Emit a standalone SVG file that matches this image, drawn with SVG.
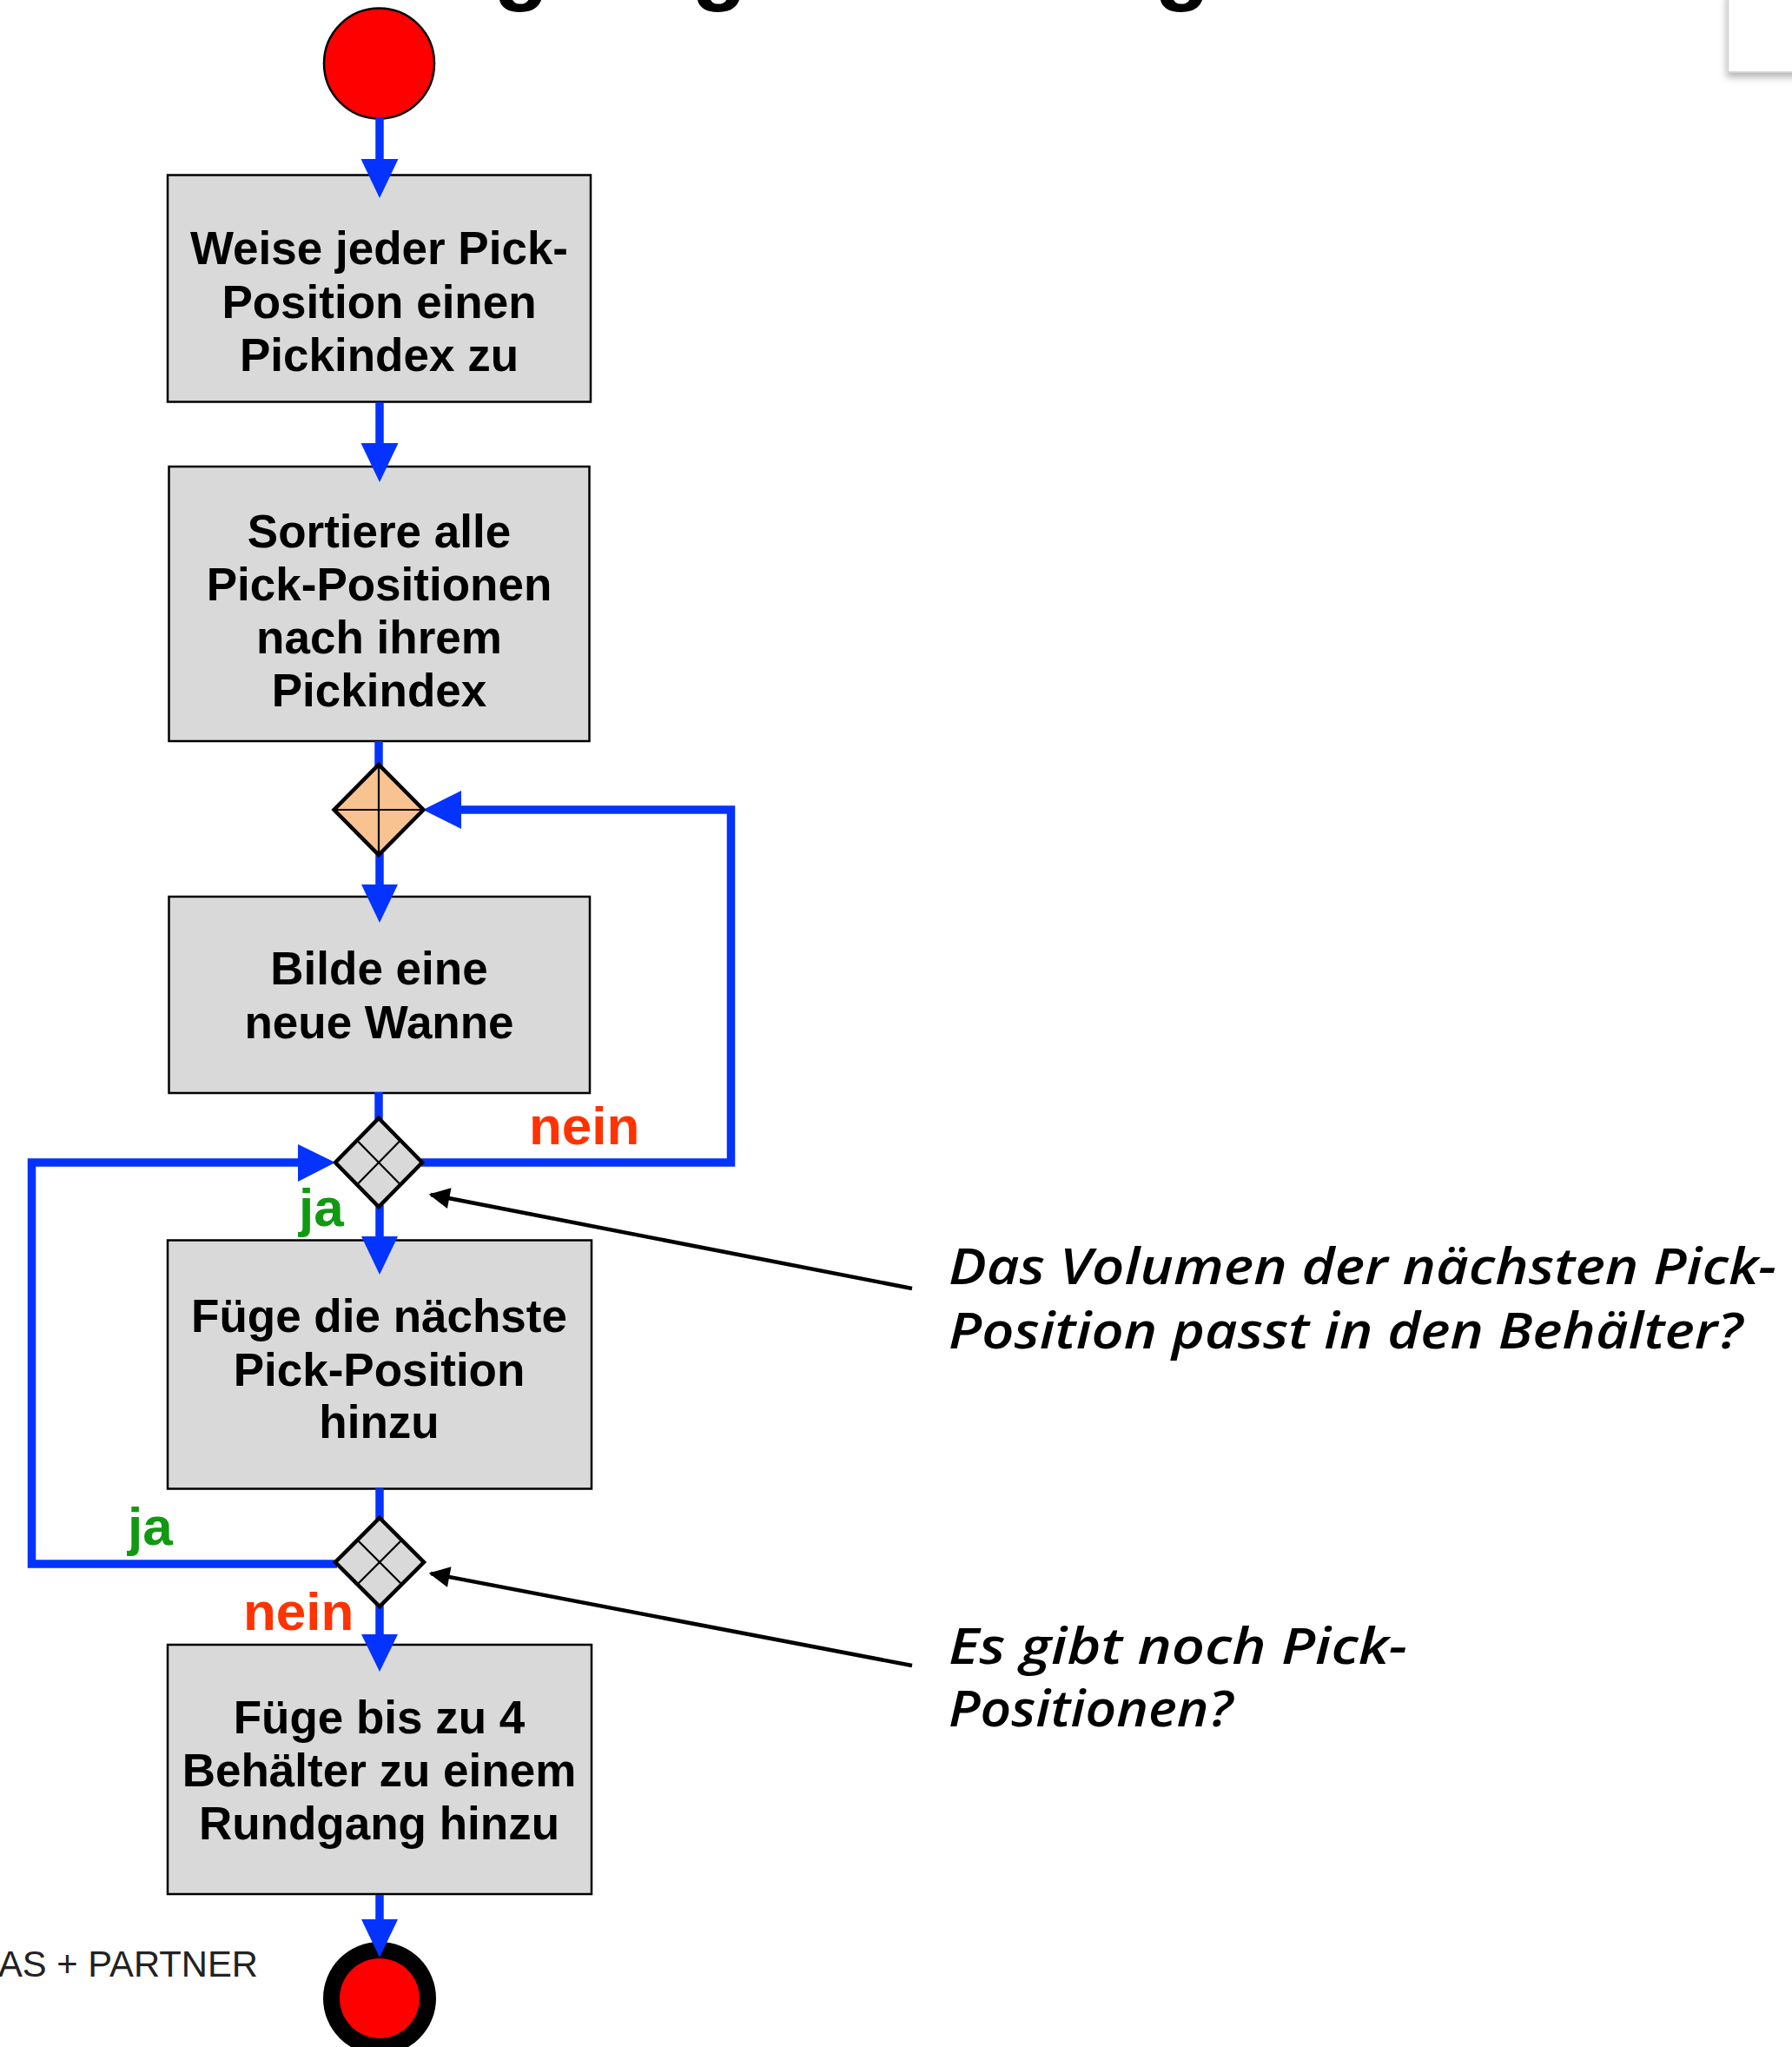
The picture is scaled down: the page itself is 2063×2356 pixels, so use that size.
<svg xmlns="http://www.w3.org/2000/svg" width="2063" height="2356" viewBox="0 0 2063 2356">
  <defs>
    <style>
      .box { fill: #d9d9d9; stroke: #000; stroke-width: 2.5; }
      .btxt { font-family: "Liberation Sans", Arial, sans-serif; font-weight: bold; font-size: 53px; fill: #000; text-anchor: middle; }
      .flow { fill: none; stroke: #0433ff; stroke-width: 9.5; stroke-linecap: butt; stroke-linejoin: miter; }
      .head { fill: #0433ff; }
      .dia { stroke: #000; stroke-width: 4.5; stroke-linejoin: miter; }
      .inner { stroke: #000; stroke-width: 2.2; fill: none; }
      .note { font-family: "Open Sans", "DejaVu Sans", sans-serif; font-style: italic; font-weight: 600; font-size: 57px; fill: #000; }
      .lbl { font-family: "Liberation Sans", Arial, sans-serif; font-weight: bold; font-size: 62px; }
      .yes { fill: #119911; }
      .no { fill: #ff3300; }
      .pointer { stroke: #000; stroke-width: 4.5; fill: none; }
    </style>
    <marker id="tip" viewBox="0 0 10 10" refX="9" refY="5" markerWidth="27" markerHeight="24" markerUnits="userSpaceOnUse" orient="auto">
      <path d="M0,0 L10,5 L0,10 z" fill="#000"/>
    </marker>
    <filter id="shadow" x="-20%" y="-20%" width="140%" height="160%">
      <feDropShadow dx="-1" dy="5" stdDeviation="4" flood-color="#000" flood-opacity="0.3"/>
    </filter>
  </defs>

  <rect width="2063" height="2356" fill="#fff"/>

  <!-- heading, only its descenders reach into the page -->
  <g id="heading" font-family="Liberation Sans, Arial, sans-serif" font-weight="bold" font-size="104" text-anchor="middle" fill="#000">
    <text x="600" y="-8">g</text>
    <text x="828" y="-8">g</text>
    <text x="1361" y="-8">g</text>
  </g>

  <!-- panel in the upper right corner -->
  <g id="corner-panel">
    <rect x="1989.5" y="-10" width="90" height="93" fill="#fff" stroke="#cfcfcf" stroke-width="1.5" filter="url(#shadow)"/>
  </g>

  <!-- start node -->
  <g id="start">
    <circle cx="436.5" cy="73" r="63.5" fill="#ff0000" stroke="#000" stroke-width="2.5"/>
  </g>

  <g id="assign-index">
    <rect class="box" x="193" y="201.5" width="487" height="261"/>
    <text class="btxt" x="436.5" y="304">Weise jeder Pick-</text>
    <text class="btxt" x="436.5" y="366">Position einen</text>
    <text class="btxt" x="436.5" y="427">Pickindex zu</text>
  </g>

  <g id="sort">
    <rect class="box" x="194.5" y="537" width="484" height="316"/>
    <text class="btxt" x="436.5" y="630">Sortiere alle</text>
    <text class="btxt" x="436.5" y="691">Pick-Positionen</text>
    <text class="btxt" x="436.5" y="752">nach ihrem</text>
    <text class="btxt" x="436.5" y="813">Pickindex</text>
  </g>

  <g id="new-tub">
    <rect class="box" x="194.5" y="1032" width="484.5" height="226"/>
    <text class="btxt" x="436.5" y="1133">Bilde eine</text>
    <text class="btxt" x="436.5" y="1195">neue Wanne</text>
  </g>

  <g id="add-position">
    <rect class="box" x="193" y="1427.5" width="488" height="286"/>
    <text class="btxt" x="436.5" y="1533">Füge die nächste</text>
    <text class="btxt" x="436.5" y="1595">Pick-Position</text>
    <text class="btxt" x="436.5" y="1655">hinzu</text>
  </g>

  <g id="build-tour">
    <rect class="box" x="193" y="1893" width="488" height="287"/>
    <text class="btxt" x="436.5" y="1995">Füge bis zu 4</text>
    <text class="btxt" x="436.5" y="2056">Behälter zu einem</text>
    <text class="btxt" x="436.5" y="2117">Rundgang hinzu</text>
  </g>

  <!-- end node -->
  <g id="end">
    <circle cx="437" cy="2300" r="65" fill="#000"/>
    <circle cx="437" cy="2300" r="46" fill="#ff0000"/>
  </g>

  <!-- connectors (drawn above the boxes so the heads overlap them) -->
  <g id="connectors">
    <!-- start -> box 1 -->
    <line class="flow" x1="437" y1="135" x2="437" y2="186"/>
    <polygon class="head" points="415.5,183 458.5,183 437,228"/>
    <!-- box 1 -> box 2 -->
    <line class="flow" x1="437" y1="463" x2="437" y2="513"/>
    <polygon class="head" points="415.5,510 458.5,510 437,555"/>
    <!-- box 2 -> merge -->
    <line class="flow" x1="436" y1="853" x2="436" y2="882"/>
    <!-- merge -> box 3 -->
    <line class="flow" x1="437" y1="982" x2="437" y2="1021"/>
    <polygon class="head" points="416,1018 458,1018 437,1062"/>
    <!-- box 3 -> decision 1 -->
    <line class="flow" x1="436" y1="1257" x2="436" y2="1289"/>
    <!-- decision 1 "nein" back to merge -->
    <polyline class="flow" points="485,1338 841.5,1338 841.5,932 528,932"/>
    <polygon class="head" points="531,910 531,954 487,932"/>
    <!-- decision 1 "ja" -> box 4 -->
    <line class="flow" x1="437" y1="1387" x2="437" y2="1426"/>
    <polygon class="head" points="416,1423 458,1423 437,1467"/>
    <!-- box 4 -> decision 2 -->
    <line class="flow" x1="437" y1="1713" x2="437" y2="1749"/>
    <!-- decision 2 "ja" back to decision 1 -->
    <polyline class="flow" points="388,1800 36.5,1800 36.5,1338 346,1338"/>
    <polygon class="head" points="343,1317 343,1360 386,1338"/>
    <!-- decision 2 "nein" -> box 5 -->
    <line class="flow" x1="437" y1="1847" x2="437" y2="1884"/>
    <polygon class="head" points="416,1881 458,1881 437,1924"/>
    <!-- box 5 -> end -->
    <line class="flow" x1="437" y1="2181" x2="437" y2="2212"/>
    <polygon class="head" points="416,2209 458,2209 437,2253"/>
  </g>

  <!-- merge node -->
  <g id="merge">
    <polygon class="dia" fill="#f8c291" points="436,880 487.5,932 436,984 384.5,932"/>
    <line class="inner" x1="436" y1="880" x2="436" y2="984"/>
    <line class="inner" x1="384.5" y1="932" x2="487.5" y2="932"/>
  </g>

  <!-- decision: volume fits -->
  <g id="decision-fits">
    <polygon class="dia" fill="#d9d9d9" points="436,1287 486,1338 436,1389 386,1338"/>
    <line class="inner" x1="411" y1="1312.5" x2="461" y2="1363.5"/>
    <line class="inner" x1="461" y1="1312.5" x2="411" y2="1363.5"/>
  </g>

  <!-- decision: positions left -->
  <g id="decision-left">
    <polygon class="dia" fill="#d9d9d9" points="437,1747 488,1798 437,1849 386,1798"/>
    <line class="inner" x1="411.5" y1="1772.5" x2="462.5" y2="1823.5"/>
    <line class="inner" x1="462.5" y1="1772.5" x2="411.5" y2="1823.5"/>
  </g>

  <!-- branch labels -->
  <g id="branch-labels" class="lbl">
    <text class="no" x="609" y="1317">nein</text>
    <text class="yes" x="344" y="1411">ja</text>
    <text class="yes" x="147" y="1778">ja</text>
    <text class="no" x="280" y="1876">nein</text>
  </g>

  <!-- notes with pointers to the decisions -->
  <g id="note-fits">
    <line class="pointer" x1="1050" y1="1483" x2="496" y2="1375" marker-end="url(#tip)"/>
    <text class="note" x="1092" y="1478" textLength="953" lengthAdjust="spacingAndGlyphs">Das Volumen der nächsten Pick-</text>
    <text class="note" x="1092" y="1552" textLength="914" lengthAdjust="spacingAndGlyphs">Position passt in den Behälter?</text>
  </g>
  <g id="note-left">
    <line class="pointer" x1="1050" y1="1917" x2="496" y2="1811" marker-end="url(#tip)"/>
    <text class="note" x="1092" y="1915" textLength="528" lengthAdjust="spacingAndGlyphs">Es gibt noch Pick-</text>
    <text class="note" x="1092" y="1987" textLength="327" lengthAdjust="spacingAndGlyphs">Positionen?</text>
  </g>

  <!-- footer logo text -->
  <g id="footer">
    <text x="-2" y="2275" font-family="Liberation Sans, Arial, sans-serif" font-size="42" fill="#222" textLength="299" lengthAdjust="spacingAndGlyphs">AS + PARTNER</text>
  </g>
</svg>
